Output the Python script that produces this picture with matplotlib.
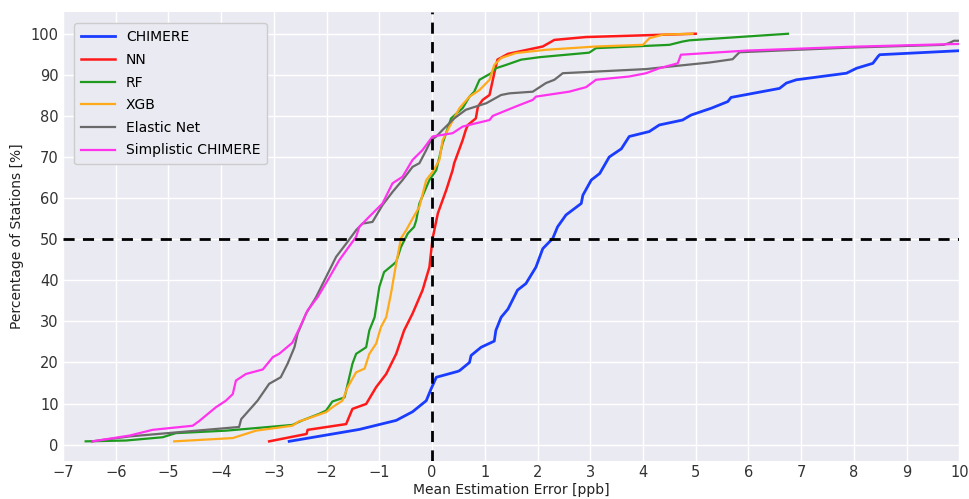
import matplotlib
matplotlib.use("Agg")
import matplotlib.pyplot as plt

# ---- data ----
chimere_x = [-2.71, -1.38, -0.68, -0.37, -0.11, -0.02, 0.08, 0.48, 0.52, 0.71, 0.74, 0.93, 1.18, 1.21,
             1.31, 1.44, 1.62, 1.78, 1.97, 2.10, 2.29, 2.38, 2.54, 2.83, 2.86, 3.02, 3.18, 3.36, 3.59,
             3.74, 4.12, 4.31, 4.75, 4.91, 5.30, 5.61, 5.67, 6.59, 6.72, 6.91, 7.86, 8.05, 8.36, 8.46,
             8.49, 10.2]
chimere_y = [0.8, 3.7, 5.9, 8.0, 10.7, 13.5, 16.4, 17.8, 18.0, 20.0, 21.7, 23.7, 25.2, 27.8,
             31.0, 33.0, 37.6, 39.2, 43.2, 47.7, 50.2, 53.0, 55.9, 58.7, 60.7, 64.4, 66.0, 70.0, 72.0,
             75.0, 76.2, 77.8, 79.0, 80.2, 81.9, 83.5, 84.5, 86.7, 88.0, 88.8, 90.4, 91.6, 92.8, 94.5,
             94.9, 96.0]

nn_x = [-3.09, -2.38, -2.36, -1.63, -1.51, -1.25, -1.06, -0.87, -0.68, -0.53, -0.37, -0.18, -0.05,
        0.01, 0.11, 0.27, 0.39, 0.42, 0.58, 0.64, 0.68, 0.83, 0.87, 0.96, 1.09, 1.18, 1.24, 1.44,
        2.10, 2.32, 2.92, 5.00]
nn_y = [0.8, 2.6, 3.6, 5.0, 8.7, 9.9, 14.0, 17.2, 22.1, 27.8, 31.9, 37.6, 43.2,
        50.2, 56.3, 62.0, 66.8, 68.5, 74.1, 76.6, 77.8, 79.4, 82.3, 83.9, 85.1, 90.4, 93.7, 95.1,
        96.9, 98.5, 99.2, 100.0]

rf_x = [-6.57, -5.81, -5.11, -4.86, -3.91, -2.65, -2.46, -2.14, -2.01, -1.89, -1.66, -1.57, -1.51,
        -1.44, -1.25, -1.19, -1.09, -1.00, -0.91, -0.75, -0.68, -0.59, -0.46, -0.34, -0.30, -0.24,
        -0.05, 0.08, 0.20, 0.36, 0.58, 0.71, 0.80, 0.90, 1.12, 1.21, 1.40, 1.69, 2.04, 2.98, 3.11,
        4.50, 4.75, 4.88, 6.75]
rf_y = [0.8, 1.0, 1.8, 2.8, 3.4, 4.8, 5.9, 7.5, 8.3, 10.5, 11.5, 16.4, 19.7,
        22.1, 23.7, 27.8, 31.0, 38.4, 42.0, 43.7, 44.5, 48.1, 51.4, 53.0, 54.6, 58.7,
        64.4, 66.8, 73.3, 79.4, 81.9, 84.7, 85.9, 88.8, 90.4, 91.6, 92.4, 93.7, 94.3, 95.4, 96.5,
        97.3, 98.1, 98.4, 100.0]

xgb_x = [-4.89, -3.78, -3.34, -2.65, -2.52, -2.46, -2.01, -1.89, -1.70, -1.60, -1.44, -1.28, -1.19,
         -1.06, -0.97, -0.87, -0.78, -0.68, -0.59, -0.49, -0.37, -0.24, -0.11, 0.01, 0.14, 0.20,
         0.33, 0.52, 0.71, 0.90, 1.09, 1.18, 1.31, 1.59, 2.16, 3.11, 4.00, 4.12, 4.38, 4.94]
xgb_y = [0.8, 1.6, 3.4, 4.6, 5.7, 5.9, 7.9, 9.1, 10.7, 14.0, 17.6, 18.5, 22.1,
         24.6, 28.6, 31.0, 36.7, 44.1, 50.2, 52.2, 55.0, 57.9, 64.4, 66.4, 69.3, 74.1,
         77.4, 81.9, 84.7, 86.3, 88.8, 92.4, 94.1, 95.3, 96.1, 96.9, 97.3, 98.9, 99.8, 100.0]

enet_x = [-6.45, -5.74, -3.66, -3.62, -3.31, -3.09, -2.87, -2.74, -2.61, -2.55, -2.39, -2.20, -2.01,
          -1.82, -1.63, -1.44, -1.32, -1.13, -0.94, -0.75, -0.56, -0.37, -0.24, -0.11, -0.02, 0.08,
          0.20, 0.42, 0.64, 1.03, 1.31, 1.47, 1.91, 2.16, 2.32, 2.48, 3.11, 4.06, 4.50, 5.26, 5.70,
          5.83, 7.86, 9.70, 9.80, 9.90, 10.2]
enet_y = [0.8, 2.0, 4.3, 6.2, 10.7, 14.8, 16.4, 19.7, 23.7, 27.0, 31.9, 35.9, 40.8,
          45.7, 48.9, 52.2, 53.8, 54.2, 58.3, 61.5, 64.4, 67.6, 68.5, 71.7, 74.1, 75.0,
          76.6, 79.4, 81.5, 83.1, 85.1, 85.5, 85.9, 88.0, 88.8, 90.4, 90.8, 91.4, 92.0, 93.0, 93.8,
          95.5, 96.6, 97.3, 97.7, 98.3, 98.3]

simp_x = [-6.44, -5.74, -5.30, -4.54, -4.42, -4.10, -3.91, -3.78, -3.72, -3.53, -3.21, -3.02, -2.90,
          -2.65, -2.52, -2.36, -2.17, -1.98, -1.76, -1.44, -1.38, -1.19, -0.94, -0.75, -0.56, -0.37,
          -0.18, 0.01, 0.39, 0.58, 0.83, 1.09, 1.15, 1.59, 1.91, 1.97, 2.60, 2.92, 3.11, 3.74, 4.06,
          4.31, 4.66, 4.72, 5.96, 7.86, 10.2]
simp_y = [0.8, 2.2, 3.6, 4.6, 5.7, 9.1, 10.7, 12.3, 15.6, 17.2, 18.3, 21.3, 22.1,
          24.8, 28.2, 32.7, 35.9, 40.0, 44.9, 50.6, 53.0, 55.5, 58.7, 63.6, 65.2, 69.3,
          71.7, 75.0, 75.8, 77.4, 78.2, 79.0, 80.0, 82.3, 83.9, 84.7, 85.9, 87.0, 88.8, 89.6, 90.4,
          91.6, 92.8, 94.9, 95.9, 96.8, 97.6]

labels = ["CHIMERE", "NN", "RF", "XGB", "Elastic Net", "Simplistic CHIMERE"]
x_ticks = list(range(-7, 11))
y_ticks = list(range(0, 101, 10))

# ---- figure ----
fig = plt.figure(figsize=(9.69, 4.99), dpi=100)
ax = fig.add_axes([0.065, 0.076, 0.925, 0.9])
ax.set_facecolor("#EAEAF2")
for s in ax.spines.values():
    s.set_visible(False)
ax.grid(True, color="white", linewidth=1.0)
ax.set_axisbelow(True)

series = [
    (chimere_x, chimere_y, "#1a3cff", 2.0),
    (nn_x, nn_y, "#ff1a1a", 1.8),
    (rf_x, rf_y, "#1e9a1e", 1.6),
    (xgb_x, xgb_y, "#ffaa1a", 1.6),
    (enet_x, enet_y, "#6a6a6a", 1.6),
    (simp_x, simp_y, "#ff33ee", 1.6),
]
for (xs, ys, c, lw), lab in zip(series, labels):
    ax.plot(xs, ys, color=c, lw=lw, label=lab)

ax.axvline(0, color="black", ls=(0, (4, 3)), lw=2)
ax.axhline(50, color="black", ls=(0, (4, 3)), lw=2)

ax.set_xlim(-7, 10)
ax.set_ylim(-4, 105.3)
ax.set_xticks(x_ticks)
ax.set_yticks(y_ticks)
ax.tick_params(axis="both", length=0, labelsize=10.5, pad=3, colors="#333333")
ax.set_xlabel("Mean Estimation Error [ppb]", fontsize=10, color="#222222", labelpad=2)
ax.set_ylabel("Percentage of Stations [%]", fontsize=10, color="#222222", labelpad=5)

leg = ax.legend(loc="upper left", fontsize=10, frameon=True, facecolor="#EAEAF2",
                edgecolor="#cccccc", framealpha=1.0, handlelength=2.4, borderpad=0.5,
                labelspacing=0.62, bbox_to_anchor=(0.005, 0.99))

fig.savefig("out.png", dpi=100, facecolor="white")
